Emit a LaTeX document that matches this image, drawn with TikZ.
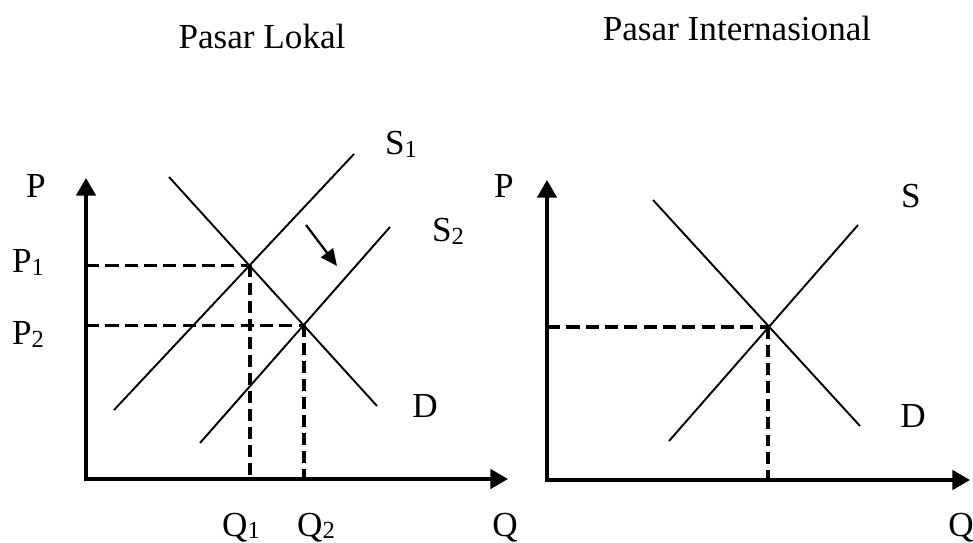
\documentclass[tikz,border=0pt]{standalone}
\usepackage{fontspec}
\setmainfont{Liberation Serif}
\usetikzlibrary{arrows.meta,positioning}
\newcommand{\subidx}[1]{\raisebox{-1.3pt}{\fontsize{14}{14}\selectfont #1}}

\begin{document}
\begin{tikzpicture}[
  x=0.02cm, y=-0.02cm,
  axes/.style={line width=2pt, line join=miter, {Triangle[length=10pt,width=11pt]}-{Triangle[length=10pt,width=11pt]}},
  curve/.style={line width=1.1pt},
  guideh/.style={line width=1.8pt, dash pattern=on 7.5pt off 3.5pt},
  guidev/.style={line width=2.4pt, dash pattern=on 6.8pt off 3.4pt},
  arr/.style={-{Triangle[length=9.5pt,width=8.5pt]}, line width=1.3pt},
  lbl/.style={font=\fontsize{20}{24}\selectfont, inner sep=0pt, anchor=base},
]
\useasboundingbox (0,0) rectangle (973,543);

% Pasar Lokal
\node[lbl] (t1) at (262,49) {Pasar Lokal};
\coordinate (o1) at (86,479);
\coordinate (yt1) at (86,178);
\coordinate (xr1) at (508,479);
\draw[axes] (yt1) |- (xr1);
\coordinate (s1a) at (114,410);
\coordinate (s1b) at (354,154);
\coordinate (s2a) at (200,443);
\coordinate (s2b) at (390,227);
\coordinate (da) at (169,177);
\coordinate (db) at (377,406);
\draw[curve] (s1a) -- (s1b);
\draw[curve] (s2a) -- (s2b);
\draw[curve] (da) -- (db);
\coordinate (e1) at (250,265.5);
\coordinate (e2) at (304,325.5);
\draw[guideh] (o1 |- e1) -- (e1);
\draw[guidev] (e1) -- (e1 |- o1);
\draw[guideh] (o1 |- e2) -- (e2);
\draw[guidev] (e2) -- (e2 |- o1);
\coordinate (ar1) at (306,225);
\coordinate (ar2) at (337,266);
\draw[arr] (ar1) -- (ar2);
\node[lbl] (p) at (36,198) {P};
\node[lbl] (p1) at (28,273) {P\subidx{1}};
\node[lbl] (p2) at (28,345) {P\subidx{2}};
\node[lbl] (q1) at (241,536) {Q\subidx{1}};
\node[lbl] (q2) at (316,536) {Q\subidx{2}};
\node[lbl] (q) at (505,536) {Q};
\node[lbl] (s1) at (401,155) {S\subidx{1}};
\node[lbl] (s2) at (448,242) {S\subidx{2}};
\node[lbl] (d) at (425,418) {D};

% Pasar Internasional
\node[lbl] (t2) at (737,41) {Pasar Internasional};
\coordinate (o2) at (547,480);
\coordinate (yt2) at (547,180);
\coordinate (xr2) at (970,480);
\draw[axes] (yt2) |- (xr2);
\coordinate (sa) at (669,441);
\coordinate (sb) at (858,225);
\coordinate (dia) at (653,200);
\coordinate (dib) at (860,426);
\draw[curve] (sa) -- (sb);
\draw[curve] (dia) -- (dib);
\coordinate (e3) at (768,327);
\draw[guideh] (o2 |- e3) -- (e3);
\draw[guidev] (e3) -- (e3 |- o2);
\node[lbl] (pi) at (504,198) {P};
\node[lbl] (si) at (911,208) {S};
\node[lbl] (di) at (913,428) {D};
\node[lbl] (qi) at (961,536) {Q};
\end{tikzpicture}
\end{document}
